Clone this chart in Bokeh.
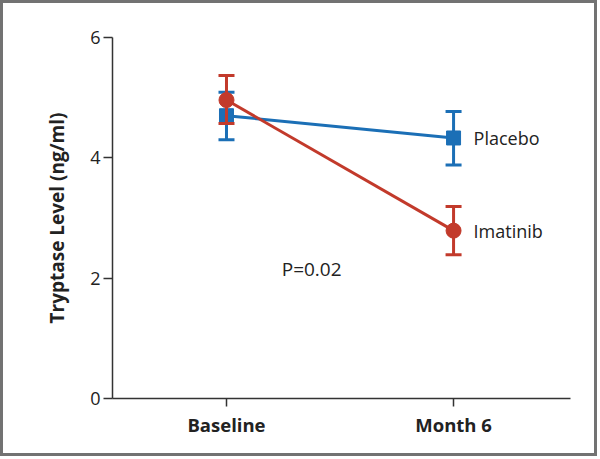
from bokeh.plotting import figure
from bokeh.layouts import column
from bokeh.models import Range1d, FixedTicker, Label
from bokeh.embed import file_html
from bokeh.resources import INLINE
from bokeh.core.properties import value

# ---- data ----
timepoints = ["Baseline", "Month 6"]
x_pos = [0, 1]
placebo_mean = [4.70, 4.33]
placebo_lower = [4.30, 3.88]
placebo_upper = [5.09, 4.77]
imatinib_mean = [4.96, 2.79]
imatinib_lower = [4.57, 2.39]
imatinib_upper = [5.37, 3.19]
y_ticks = [0, 2, 4, 6]
series_names = ["Placebo", "Imatinib"]
p_value_text = "P=0.02"

BLUE = "#1b6fb6"
RED = "#c23a2b"
AXIS = "#333333"
FONT = "Open Sans"

p = figure(width=591, height=450, output_backend="svg", toolbar_location=None,
           x_range=Range1d(-0.502, 1.515), y_range=Range1d(0, 6),
           min_border_left=109, min_border_right=24, min_border_top=34, min_border_bottom=55)
p.outline_line_color = None
p.xgrid.grid_line_color = None
p.ygrid.grid_line_color = None
p.background_fill_color = "white"
p.border_fill_color = "white"

# axes
p.yaxis.ticker = FixedTicker(ticks=y_ticks)
p.xaxis.ticker = FixedTicker(ticks=x_pos)
p.xaxis.major_label_overrides = {x: t for x, t in zip(x_pos, timepoints)}
for ax in (p.xaxis[0], p.yaxis[0]):
    ax.axis_line_color = AXIS
    ax.axis_line_width = 1.5
    ax.major_tick_line_color = AXIS
    ax.major_tick_line_width = 1.5
    ax.major_tick_in = 0
    ax.minor_tick_line_color = None
    ax.major_label_text_font = FONT
    ax.major_label_text_color = "#222222"
p.yaxis.major_tick_out = 9
p.xaxis.major_tick_out = 8
p.yaxis.major_label_text_font_size = "18px"
p.yaxis.major_label_standoff = 3
p.xaxis.major_label_text_font_size = "18.5px"
p.xaxis.major_label_text_font_style = "bold"
p.xaxis.major_label_standoff = 5
p.yaxis.axis_label = "Tryptase Level (ng/ml)"
p.yaxis.axis_label_text_font = FONT
p.yaxis.axis_label_text_font_size = "19px"
p.yaxis.axis_label_text_font_style = "bold"
p.yaxis.axis_label_text_color = "#222222"
p.yaxis.axis_label_standoff = 17

def draw(mean, lower, upper, color, marker, size):
    p.line(x_pos, mean, line_color=color, line_width=3)
    p.segment(x0=x_pos, y0=lower, x1=x_pos, y1=upper, line_color=color, line_width=3)
    p.scatter(x_pos, lower, marker="dash", size=16, line_color=color, line_width=3)
    p.scatter(x_pos, upper, marker="dash", size=16, line_color=color, line_width=3)
    p.scatter(x_pos, mean, marker=marker, size=size, fill_color=color, line_color=color)

draw(placebo_mean, placebo_lower, placebo_upper, BLUE, "square", 14)
draw(imatinib_mean, imatinib_lower, imatinib_upper, RED, "circle", 15)

# series labels beside the last points
p.text(x=[x_pos[-1], x_pos[-1]], y=[placebo_mean[-1], imatinib_mean[-1]], text=series_names,
       x_offset=20, text_baseline="middle", text_align="left",
       text_font=value(FONT), text_font_size="18px", text_color="#222222")

p.add_layout(Label(x=0.375, y=2.16, text=p_value_text, text_align="center", text_baseline="middle",
                   text_font=FONT, text_font_size="19px", text_color="#222222"))

layout = column(p, styles={"border": "3px solid #727272"})

open("out.html", "w").write(file_html(layout, INLINE))
